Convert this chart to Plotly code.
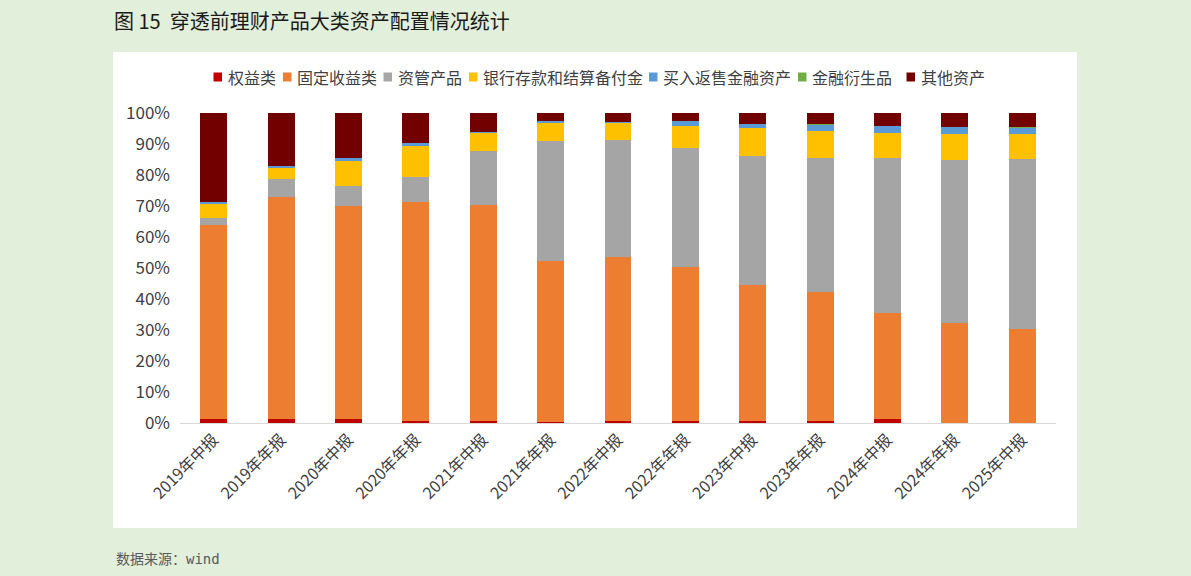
import plotly.graph_objects as go

categories = ["2019年中报", "2019年年报", "2020年中报", "2020年年报", "2021年中报", "2021年年报",
              "2022年中报", "2022年年报", "2023年中报", "2023年年报", "2024年中报", "2024年年报", "2025年中报"]

equity      = [1.2, 1.2, 1.2, 0.8, 0.6, 0.3, 0.8, 0.5, 0.5, 0.8, 1.2, 0.1, 0.1]
fixed_inc   = [62.8, 71.8, 68.8, 70.5, 69.8, 52.1, 52.9, 49.7, 43.9, 41.6, 34.2, 32.1, 30.1]
asset_mgmt  = [2.1, 5.6, 6.5, 7.9, 17.3, 38.7, 37.5, 38.4, 41.6, 43.1, 50.0, 52.5, 55.1]
deposits    = [4.7, 3.8, 8.3, 10.4, 5.9, 5.8, 5.7, 7.2, 9.1, 8.7, 8.3, 8.6, 8.0]
reverse_rep = [0.4, 0.5, 0.6, 0.6, 0.2, 0.5, 0.3, 1.6, 1.5, 2.0, 2.1, 2.3, 2.0]
derivatives = [0.0, 0.0, 0.0, 0.0, 0.0, 0.0, 0.0, 0.0, 0.0, 0.1, 0.0, 0.0, 0.2]
others      = [28.8, 17.0, 14.6, 9.7, 6.3, 2.6, 2.8, 2.6, 3.4, 3.7, 4.2, 4.4, 4.5]

series = [
    ("权益类", equity, "#C00000"),
    ("固定收益类", fixed_inc, "#ED7D31"),
    ("资管产品", asset_mgmt, "#A5A5A5"),
    ("银行存款和结算备付金", deposits, "#FFC000"),
    ("买入返售金融资产", reverse_rep, "#5B9BD5"),
    ("金融衍生品", derivatives, "#70AD47"),
    ("其他资产", others, "#720000"),
]

FONT = "Noto Sans CJK SC, Microsoft YaHei, sans-serif"

fig = go.Figure()
for name, vals, color in series:
    fig.add_trace(go.Bar(
        name=name, x=categories, y=vals,
        marker=dict(color=color, line=dict(width=0)),
        hovertemplate="%{x}<br>" + name + ": %{y}%<extra></extra>",
        showlegend=False,
    ))

W, H = 1191, 576
L, R, T, B = 180, 1056, 113, 423
pw, ph = R - L, B - T

def px(x):
    return (x - L) / pw

def py(y):
    return (B - y) / ph

# custom compact legend (square swatch + label), left pixel of each swatch
legend_x = [213.5, 283, 383.5, 469, 649, 798, 906.5]
legend_y = 77
shapes = [dict(type="rect", xref="paper", yref="paper", x0=px(113), x1=px(1077),
               y0=py(528), y1=py(52), fillcolor="white", line=dict(width=0), layer="below")]
annotations = []
for (name, _, color), lx in zip(series, legend_x):
    shapes.append(dict(type="rect", xref="paper", yref="paper",
                       x0=px(lx), x1=px(lx + 8.5), y0=py(legend_y + 4.5), y1=py(legend_y - 4.5),
                       fillcolor=color, line=dict(width=0)))
    annotations.append(dict(text=name, xref="paper", yref="paper", x=px(lx + 12), y=py(legend_y),
                            xanchor="left", yanchor="middle", showarrow=False,
                            font=dict(family=FONT, size=16, color="#404040")))

annotations.append(dict(text="数据来源：<span style='font-family:DejaVu Sans Mono'>wind</span>",
                        xref="paper", yref="paper", x=px(114), y=py(558),
                        xanchor="left", yanchor="middle", showarrow=False,
                        font=dict(family=FONT, size=14, color="#595959")))

fig.update_layout(
    width=W, height=H,
    barmode="stack", bargap=0.6,
    paper_bgcolor="#E2EFDA", plot_bgcolor="white",
    margin=dict(l=L, r=W - R, t=T, b=H - B, pad=0),
    font=dict(family=FONT, color="#404040", size=16),
    title=dict(text="图 15  穿透前理财产品大类资产配置情况统计", x=114 / W, xanchor="left",
               y=1 - 22 / H, yanchor="middle", yref="container",
               font=dict(family=FONT, size=20, color="#1a1a1a")),
    showlegend=False,
    xaxis=dict(showgrid=False, showline=True, linecolor="#D9D9D9", linewidth=1,
               tickangle=-45, ticks="", tickfont=dict(size=16, color="#404040"),
               range=[-0.5, len(categories) - 0.5]),
    yaxis=dict(range=[0, 100], dtick=10, ticksuffix="%", showgrid=False, zeroline=False,
               showline=False, ticks="", tickfont=dict(size=17, color="#404040"),
               ticklabelstandoff=9),
    shapes=shapes,
    annotations=annotations,
)

fig.write_html("out.html")
